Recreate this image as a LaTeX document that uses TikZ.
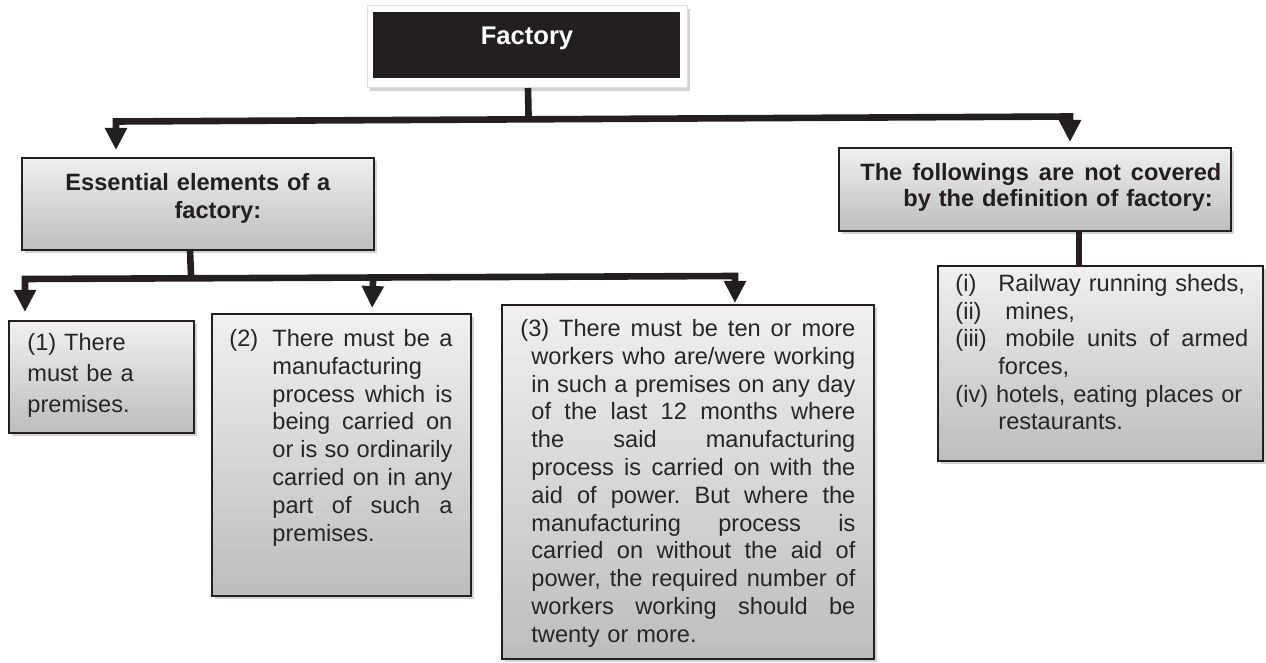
\documentclass[tikz,border=0pt]{standalone}
\usepackage{fontspec}
\setmainfont{Liberation Sans}
\usetikzlibrary{arrows.meta,shadows,calc}
\definecolor{ink}{HTML}{231F20}
\definecolor{txt}{HTML}{262626}
\definecolor{gtop}{HTML}{F0F0F0}
\definecolor{gbot}{HTML}{BDBDBD}
\newcommand{\jline}[2]{\leavevmode\hbox to #1{#2}}
\newcommand{\hf}{\hfill}
\begin{document}
\begin{tikzpicture}[x=0.5pt,y=-0.5pt,
  gbox/.style={draw=ink, line width=0.9pt, top color=gtop, bottom color=gbot,
    drop shadow={shadow xshift=1.5pt, shadow yshift=-1.8pt, opacity=0.35},
    anchor=north west, inner sep=0pt},
  conn/.style={draw=ink, line width=3.3pt},
  arr/.tip={Triangle[width=10.5pt,length=11pt]},
  body/.style={inner sep=0pt, anchor=base west, align=left, text=txt},
  head/.style={inner sep=0pt, anchor=base west, text=ink, font=\bfseries\fontsize{11.8}{13}\selectfont}]
\useasboundingbox (0,0) rectangle (1266,663);

% Factory
\node[anchor=north west, inner sep=0pt, minimum width=160pt, minimum height=41pt,
  fill=white, draw=gray!25, line width=0.5pt,
  drop shadow={shadow xshift=1pt, shadow yshift=-1.8pt, opacity=0.35}] (facf) at (367,5) {};
\node[anchor=north west, inner sep=0pt, minimum width=153.5pt, minimum height=33pt, fill=ink] (faci) at (373,12) {};
\node[anchor=base, inner sep=0pt, text=white, font=\bfseries\fontsize{12.8}{14}\selectfont] (fact) at (527,45) {Factory};

% Boxes
\node[gbox, minimum width=176pt, minimum height=46pt] (ess) at (21,157) {};
\node[gbox, minimum width=196pt, minimum height=41.5pt] (rh) at (838,147) {};
\node[gbox, minimum width=92.5pt, minimum height=56pt] (b1) at (8,320) {};
\node[gbox, minimum width=129.5pt, minimum height=141pt] (b2) at (211,313) {};
\node[gbox, minimum width=186pt, minimum height=177pt] (b3) at (501,304) {};
\node[gbox, minimum width=162.5pt, minimum height=97.5pt] (rl) at (937,265) {};

% Heading texts
\node[head, text width=150pt, align=center, font=\bfseries\fontsize{11.8}{14}\selectfont] (esst) at (47.5,190.5)
  {Essential elements of a\\\hspace*{20pt}factory:};
\node[head, text width=180.5pt, align=left] (rht) at (860,180.5)
  {\jline{180.5pt}{The\hf followings\hf are\hf not\hf covered}\\\hspace*{21.5pt}by the definition of factory:};

% Body texts
\node[body, text width=75pt, font=\fontsize{11.8}{15.5}\selectfont] (t1) at (27,350.5)
  {(1) There\\must be a\\premises.};
\node[body, text width=111.5pt, font=\fontsize{11.8}{13.9}\selectfont] (t2) at (229,346.5)
  {\jline{111.5pt}{\makebox[21.5pt][l]{(2)}There\hf must\hf be\hf a}\\
   \hspace*{21.5pt}manufacturing\\
   \hspace*{21.5pt}\jline{90pt}{process\hf which\hf is}\\
   \hspace*{21.5pt}\jline{90pt}{being\hf carried\hf on}\\
   \hspace*{21.5pt}\jline{90pt}{or\hf is\hf so\hf ordinarily}\\
   \hspace*{21.5pt}\jline{90pt}{carried\hf on\hf in\hf any}\\
   \hspace*{21.5pt}\jline{90pt}{part\hf of\hf such\hf a}\\
   \hspace*{21.5pt}premises.};
\node[body, text width=167.5pt, font=\fontsize{11.8}{13.9}\selectfont] (t3) at (520,336.5)
  {\jline{167.5pt}{(3)\hf There\hf must\hf be\hf ten\hf or\hf more}\\
   \hspace*{5.5pt}\jline{162pt}{workers\hf who\hf are/were\hf working}\\
   \hspace*{5.5pt}\jline{162pt}{in\hf such\hf a\hf premises\hf on\hf any\hf day}\\
   \hspace*{5.5pt}\jline{162pt}{of\hf the\hf last\hf 12\hf months\hf where}\\
   \hspace*{5.5pt}\jline{162pt}{the\hf said\hf manufacturing}\\
   \hspace*{5.5pt}\jline{162pt}{process\hf is\hf carried\hf on\hf with\hf the}\\
   \hspace*{5.5pt}\jline{162pt}{aid\hf of\hf power.\hf But\hf where\hf the}\\
   \hspace*{5.5pt}\jline{162pt}{manufacturing\hf process\hf is}\\
   \hspace*{5.5pt}\jline{162pt}{carried\hf on\hf without\hf the\hf aid\hf of}\\
   \hspace*{5.5pt}\jline{162pt}{power,\hf the\hf required\hf number\hf of}\\
   \hspace*{5.5pt}\jline{162pt}{workers\hf working\hf should\hf be}\\
   \hspace*{5.5pt}twenty or more.};
\node[body, text width=146.5pt, font=\fontsize{11.8}{13.85}\selectfont] (t4) at (955,291.5)
  {\makebox[21.5pt][l]{(i)}Railway running sheds,\\
   \makebox[25pt][l]{(ii)}mines,\\
   \makebox[25pt][l]{(iii)}\jline{121.5pt}{mobile\hf units\hf of\hf armed}\\
   \hspace*{21.5pt}forces,\\
   \jline{143.5pt}{(iv) hotels,\hf eating\hf places\hf or}\\
   \hspace*{21.5pt}restaurants.};

% Connectors
\coordinate (tl) at (116,121.5);
\coordinate (tr) at (1070,116.5);
\coordinate (fs) at (528,0);
\draw[conn] (fs |- facf.south) -- ($(tl)!(fs)!(tr)$);
\draw[conn, arr-arr, shorten <=3.5pt, shorten >=2.5pt]
  (tl |- ess.north) -- (tl) -- (tr) -- (tr |- rh.north);

\coordinate (ml) at (25,279);
\coordinate (mr) at (735,276);
\coordinate (es) at (190,0);
\coordinate (a2) at (372,0);
\draw[conn] (es |- ess.south) -- ($(ml)!(es)!(mr)$);
\draw[conn, arr-arr, shorten <=4pt, shorten >=0.5pt]
  (ml |- b1.north) -- (ml) -- (mr) -- (mr |- b3.north);
\draw[conn, -arr, shorten >=2.5pt] ($(ml)!(a2)!(mr)$) -- (a2 |- b2.north);

\coordinate (rs) at (1079,0);
\draw[conn] (rs |- rh.south) -- (rs |- rl.north);
\end{tikzpicture}
\end{document}
